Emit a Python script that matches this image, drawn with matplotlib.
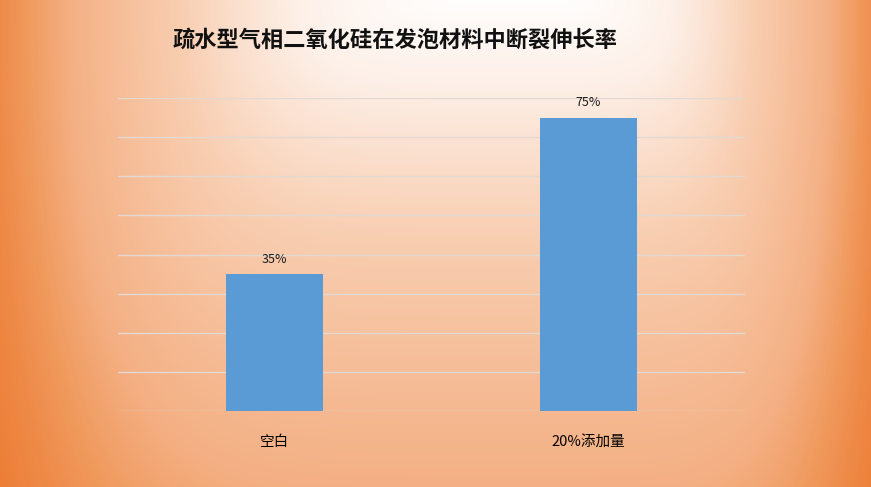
import numpy as np
import matplotlib
matplotlib.use("Agg")
import matplotlib.pyplot as plt
from matplotlib.colors import LinearSegmentedColormap

plt.rcParams['font.family'] = ['Noto Sans CJK SC', 'DejaVu Sans']

title = "疏水型气相二氧化硅在发泡材料中断裂伸长率"
categories = ["空白", "20%添加量"]
values = [35, 75]
labels = ["35%", "75%"]

W, H = 871, 487
fig = plt.figure(figsize=(W / 100, H / 100), dpi=100)

# background gradient (white glow near top centre, orange towards edges)
bg = fig.add_axes([0, 0, 1, 1], zorder=0)
yy, xx = np.mgrid[0:H, 0:W].astype(float)
cx = 520.0
dx = xx - cx
rx = np.where(dx > 0, 360.0, 526.0)
u = (np.abs(dx) / rx) ** 1.85
v = (yy / 718.0) ** 0.74
p = 3.0
d = (u ** p + v ** p) ** (1.0 / p)
d = np.clip(d / 1.15, 0, 1)
cmap = LinearSegmentedColormap.from_list(
    "bg", [(0, "#FFFFFF"), (0.174, "#FDF0E8"), (0.391, "#F8CDB0"),
           (0.652, "#F4B084"), (0.77, "#F09A5E"), (0.861, "#EE8A48"), (1.0, "#EC7A30")])
bg.imshow(d, cmap=cmap, vmin=0, vmax=1, aspect="auto", extent=[0, W, H, 0])
bg.axis("off")

ax = fig.add_axes([118 / W, 1 - 411 / H, (745 - 118) / W, (411 - 98) / H], zorder=1)
ax.patch.set_alpha(0)
x = np.arange(len(categories))
bars = ax.bar(x, values, width=0.31, color="#5B9BD5", zorder=3)
ax.set_xlim(-0.5, 1.5)
ax.set_ylim(0, 80)
ax.set_yticks(np.arange(0, 81, 10))
ax.yaxis.grid(True, color="#E3D9D3", linewidth=1.0)
ax.set_axisbelow(True)
ax.tick_params(axis="y", left=False, labelleft=False)
ax.tick_params(axis="x", length=0, pad=17, labelsize=10.5)
ax.set_xticks(x)
ax.set_xticklabels(categories, fontweight="medium")
for s in ax.spines.values():
    s.set_visible(False)
for xi, v_, lab in zip(x, values, labels):
    ax.annotate(lab, (xi, v_), xytext=(0, 6), textcoords="offset points",
                ha="center", va="bottom", fontsize=9, color="#1a1a1a", fontweight="medium")

fig.text(395 / W, 1 - 40 / H, title, ha="center", va="center", fontsize=16,
         color="#111111", fontweight="bold")

fig.savefig("out.png", dpi=100)
